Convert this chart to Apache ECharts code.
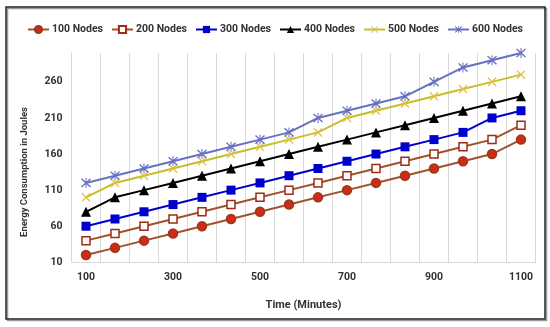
<!DOCTYPE html>
<html><head><meta charset="utf-8">
<script src="https://cdn.jsdelivr.net/npm/echarts@6/dist/echarts.min.js"></script>
<style>html,body{margin:0;padding:0;background:#fff}#c{width:550px;height:327px}</style>
</head><body><div id="c"></div>
<script>
const categories = ['100','167','233','300','367','433','500','567','633','700','767','833','900','967','1033','1100'];
const nodes100 = [20,30,40,50,60,70,80,90,100,110,120,130,140,150,160,180];
const nodes200 = [40,50,60,70,80,90,100,110,120,130,140,150,160,170,180,200];
const nodes300 = [60,70,80,90,100,110,120,130,140,150,160,170,180,190,210,220];
const nodes400 = [80,100,110,120,130,140,150,160,170,180,190,200,210,220,230,240];
const nodes500 = [100,120,130,140,150,160,170,180,190,210,220,230,240,250,260,270];
const nodes600 = [120,130,140,150,160,170,180,190,210,220,230,240,260,280,290,300];
const seriesNames = ['100 Nodes','200 Nodes','300 Nodes','400 Nodes','500 Nodes','600 Nodes'];
const yTicks = {min:10, max:300, interval:50};

const FONT = 'Roboto';
const xPath = 'path://M2,0 L10,8 L18,0 L20,2 L12,10 L20,18 L18,20 L10,12 L2,20 L0,18 L8,10 L0,2 Z';
const starPath = 'path://M2,0 L10,8 L18,0 L20,2 L12,10 L20,18 L18,20 L10,12 L2,20 L0,18 L8,10 L0,2 Z M9,-1 L11,-1 L11,21 L9,21 Z';

function mk(name, data, lineColor, symbol, size, fill, border){
  return {
    name, type:'line', data, symbol, symbolSize:size,
    lineStyle:{color:lineColor, width:2},
    itemStyle:{color:fill, borderColor:border||fill, borderWidth: border?1.5:0},
    emphasis:{disabled:true}
  };
}

const chart = echarts.init(document.getElementById('c'), null, {renderer:'canvas'});
chart.setOption({
  animation:false,
  backgroundColor:'#fff',
  textStyle:{fontFamily:FONT},
  legend:{
    top:19, left:22, itemWidth:21, itemHeight:9, itemGap:8,
    textStyle:{fontFamily:FONT, fontWeight:'bold', fontSize:10.5, color:'#333', padding:[0,0,0,-2]},
    data:seriesNames
  },
  grid:{left:71.5, right:14.5, top:53, bottom:64.7},
  xAxis:{
    type:'category', data:categories, boundaryGap:true,
    name:'Time (Minutes)', nameLocation:'middle', nameGap:37,
    nameTextStyle:{fontFamily:FONT, fontWeight:'bold', fontSize:11, color:'#333'},
    axisLine:{lineStyle:{color:'#D9D9D9'}},
    axisTick:{show:false},
    axisLabel:{interval:2, margin:10, fontFamily:FONT, fontWeight:'bold', fontSize:10.5, color:'#333'},
    splitLine:{show:true, interval:0, lineStyle:{color:'#D9D9D9', width:1}}
  },
  yAxis:{
    type:'value', min:yTicks.min, max:yTicks.max, interval:yTicks.interval,
    axisLine:{show:true, lineStyle:{color:'#D9D9D9'}},
    axisTick:{show:false},
    splitLine:{show:false},
    axisLabel:{showMaxLabel:false, margin:9, fontFamily:FONT, fontWeight:'bold', fontSize:10.5, color:'#333'}
  },
  graphic:[
    {type:'rect', shape:{x:7.5, y:8.5, width:539, height:312}, style:{fill:'none', stroke:'#999', lineWidth:1.5}, z:-1},
    {type:'rect', shape:{x:6, y:7, width:539, height:312}, style:{fill:'none', stroke:'#222', lineWidth:1.5}},
    {type:'text', x:25, y:172, rotation:Math.PI/2,
     style:{text:'Energy Consumption in Joules', fontFamily:FONT, fontWeight:'bold', fontSize:9.5, fill:'#333', textAlign:'center', textVerticalAlign:'middle'}}
  ],
  series:[
    mk(seriesNames[0], nodes100, '#A0522D', 'circle', 9, '#D02A18', '#9A3A1A'),
    mk(seriesNames[1], nodes200, '#A0522D', 'rect', 8, '#ffffff', '#A02A14'),
    mk(seriesNames[2], nodes300, '#0000CC', 'rect', 9, '#0000CC'),
    mk(seriesNames[3], nodes400, '#000000', 'triangle', 10, '#000000'),
    mk(seriesNames[4], nodes500, '#C8BE28', xPath, 9, '#E0C040'),
    mk(seriesNames[5], nodes600, '#6870C0', starPath, 10, '#6870C0')
  ]
});
</script>
</body></html>
